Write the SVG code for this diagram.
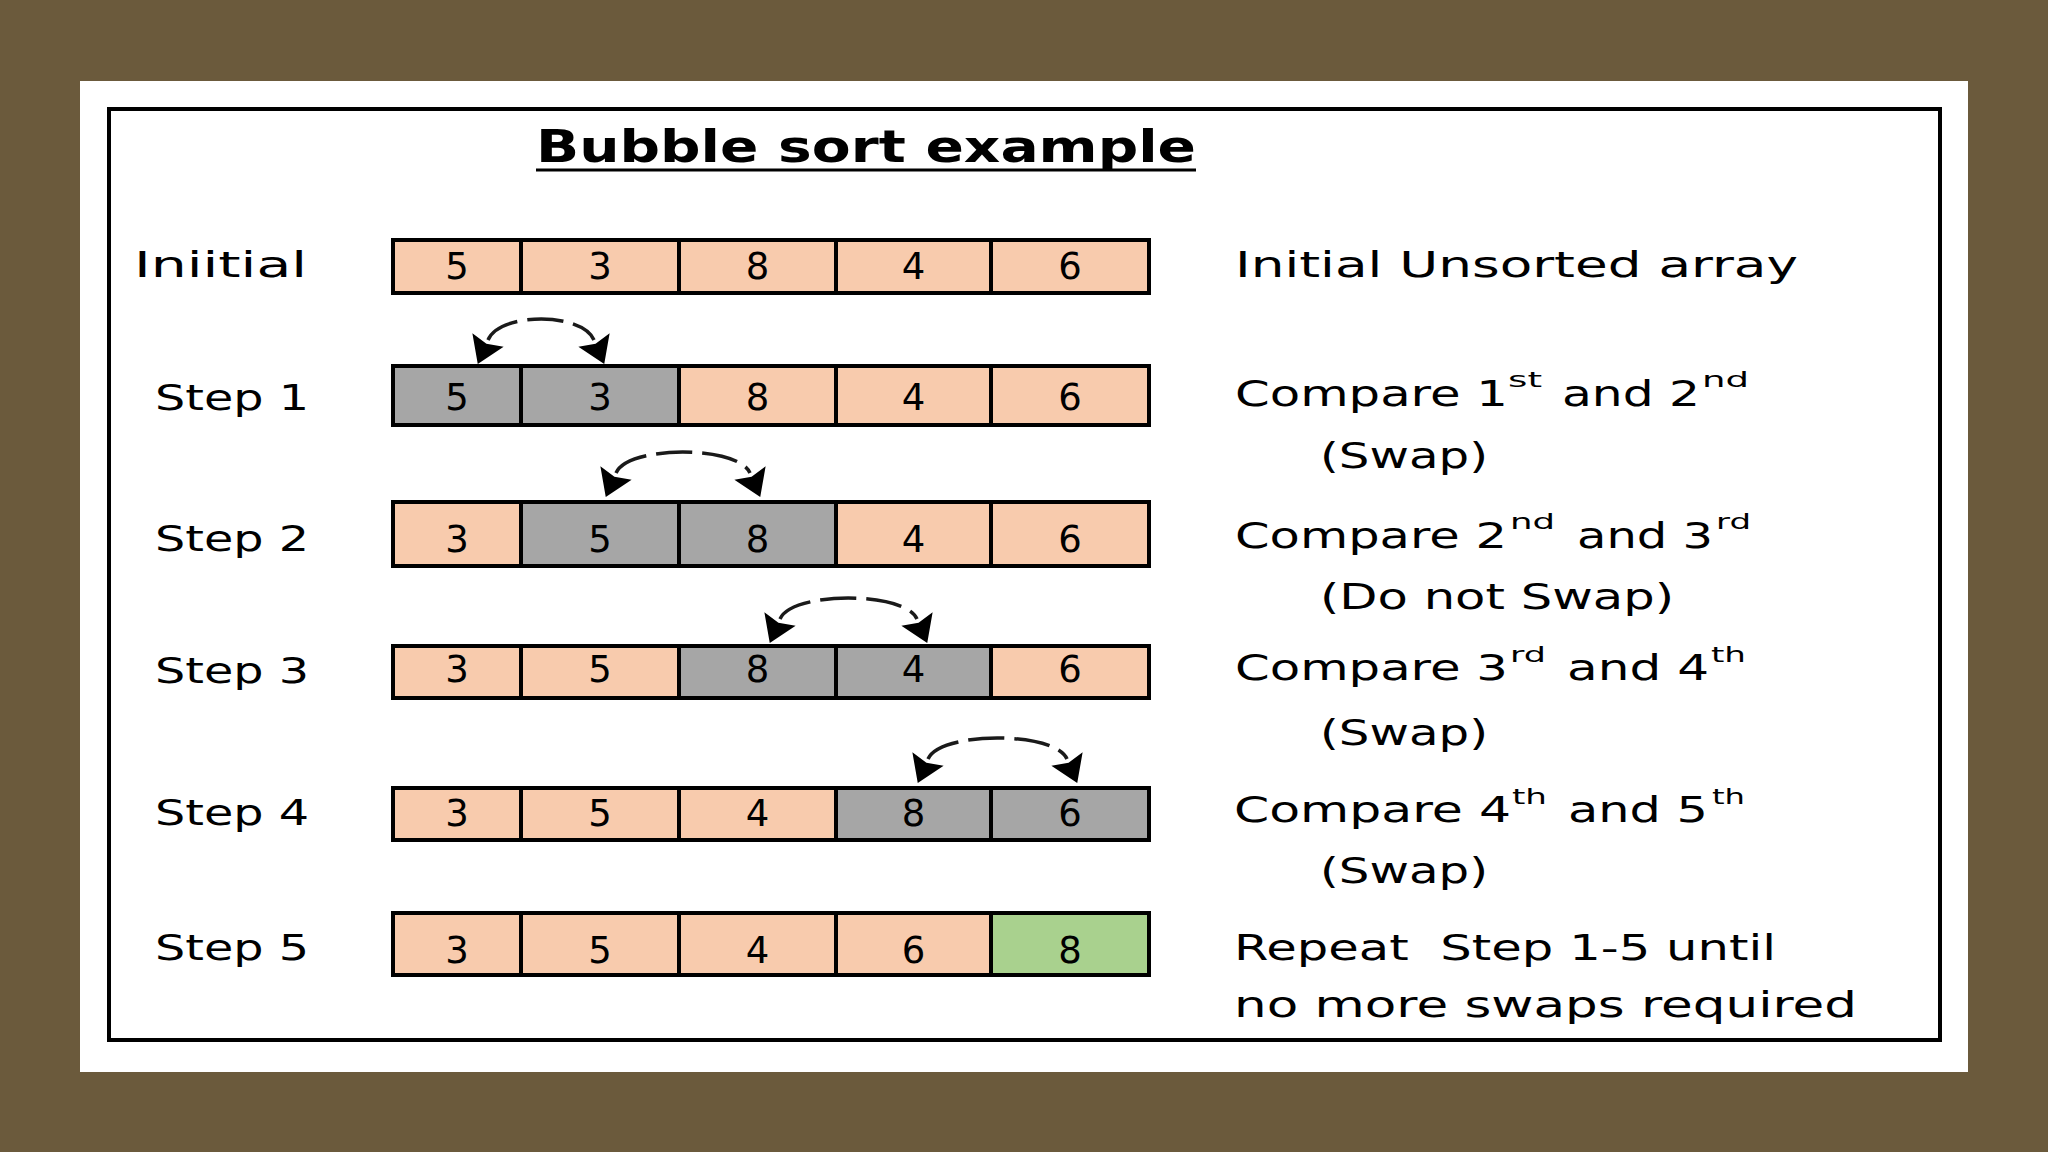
<svg xmlns="http://www.w3.org/2000/svg" width="2048" height="1152" viewBox="0 0 2048 1152">
<defs>
<style>
.t{font-family:"DejaVu Sans",Verdana,sans-serif;fill:#000}
.title{font-size:44px;font-weight:bold}
.lbl{font-size:36px}
.num{font-size:37px;text-anchor:middle}
.txt{font-size:35px}
.sup{font-size:21px}
.cell{stroke:#000;stroke-width:4}
.p{fill:#F8CBAD}
.g{fill:#A6A6A6}
.gr{fill:#A9D18E}
.arc{fill:none;stroke:#1a1a1a;stroke-width:3.5;stroke-dasharray:36 10;marker-start:url(#ah);marker-end:url(#ah)}
</style>
<marker id="ah" markerUnits="userSpaceOnUse" viewBox="-2 -20 32 40" markerWidth="32" markerHeight="40" refX="0" refY="0" orient="auto-start-reverse">
<path d="M0,-17 L26,0 L0,17 L4,0 Z" fill="#000"/>
</marker>
</defs>
<rect x="0" y="0" width="2048" height="1152" fill="#6B5A3C"/>
<rect x="80" y="81" width="1888" height="991" fill="#FFFFFF"/>
<rect x="109" y="109" width="1831" height="931" fill="none" stroke="#000" stroke-width="4"/>

<g id="title">
<text class="t title" x="536" y="162" textLength="660" lengthAdjust="spacingAndGlyphs">Bubble sort example</text>
<line x1="536" y1="170" x2="1196" y2="170" stroke="#000" stroke-width="3"/>
</g>

<g id="labels">
<text class="t lbl" x="134" y="277" textLength="173" lengthAdjust="spacingAndGlyphs">Iniitial</text>
<text class="t lbl" x="155" y="410" textLength="154" lengthAdjust="spacingAndGlyphs">Step 1</text>
<text class="t lbl" x="155" y="551" textLength="154" lengthAdjust="spacingAndGlyphs">Step 2</text>
<text class="t lbl" x="155" y="683" textLength="154" lengthAdjust="spacingAndGlyphs">Step 3</text>
<text class="t lbl" x="155" y="825" textLength="154" lengthAdjust="spacingAndGlyphs">Step 4</text>
<text class="t lbl" x="155" y="960" textLength="154" lengthAdjust="spacingAndGlyphs">Step 5</text>
</g>

<g id="row-initial">
<rect class="cell p" x="393" y="240" width="128" height="53"/>
<rect class="cell p" x="521" y="240" width="158" height="53"/>
<rect class="cell p" x="679" y="240" width="157" height="53"/>
<rect class="cell p" x="836" y="240" width="155" height="53"/>
<rect class="cell p" x="991" y="240" width="158" height="53"/>
<text class="t num" x="457" y="279">5</text>
<text class="t num" x="600" y="279">3</text>
<text class="t num" x="757.5" y="279">8</text>
<text class="t num" x="913.5" y="279">4</text>
<text class="t num" x="1070" y="279">6</text>
</g>

<g id="row-step1">
<rect class="cell g" x="393" y="366" width="128" height="59"/>
<rect class="cell g" x="521" y="366" width="158" height="59"/>
<rect class="cell p" x="679" y="366" width="157" height="59"/>
<rect class="cell p" x="836" y="366" width="155" height="59"/>
<rect class="cell p" x="991" y="366" width="158" height="59"/>
<text class="t num" x="457" y="410">5</text>
<text class="t num" x="600" y="410">3</text>
<text class="t num" x="757.5" y="410">8</text>
<text class="t num" x="913.5" y="410">4</text>
<text class="t num" x="1070" y="410">6</text>
</g>

<g id="row-step2">
<rect class="cell p" x="393" y="502" width="128" height="64"/>
<rect class="cell g" x="521" y="502" width="158" height="64"/>
<rect class="cell g" x="679" y="502" width="157" height="64"/>
<rect class="cell p" x="836" y="502" width="155" height="64"/>
<rect class="cell p" x="991" y="502" width="158" height="64"/>
<text class="t num" x="457" y="552">3</text>
<text class="t num" x="600" y="552">5</text>
<text class="t num" x="757.5" y="552">8</text>
<text class="t num" x="913.5" y="552">4</text>
<text class="t num" x="1070" y="552">6</text>
</g>

<g id="row-step3">
<rect class="cell p" x="393" y="646" width="128" height="52"/>
<rect class="cell p" x="521" y="646" width="158" height="52"/>
<rect class="cell g" x="679" y="646" width="157" height="52"/>
<rect class="cell g" x="836" y="646" width="155" height="52"/>
<rect class="cell p" x="991" y="646" width="158" height="52"/>
<text class="t num" x="457" y="682">3</text>
<text class="t num" x="600" y="682">5</text>
<text class="t num" x="757.5" y="682">8</text>
<text class="t num" x="913.5" y="682">4</text>
<text class="t num" x="1070" y="682">6</text>
</g>

<g id="row-step4">
<rect class="cell p" x="393" y="788" width="128" height="52"/>
<rect class="cell p" x="521" y="788" width="158" height="52"/>
<rect class="cell p" x="679" y="788" width="157" height="52"/>
<rect class="cell g" x="836" y="788" width="155" height="52"/>
<rect class="cell g" x="991" y="788" width="158" height="52"/>
<text class="t num" x="457" y="826">3</text>
<text class="t num" x="600" y="826">5</text>
<text class="t num" x="757.5" y="826">4</text>
<text class="t num" x="913.5" y="826">8</text>
<text class="t num" x="1070" y="826">6</text>
</g>

<g id="row-step5">
<rect class="cell p" x="393" y="913" width="128" height="62"/>
<rect class="cell p" x="521" y="913" width="158" height="62"/>
<rect class="cell p" x="679" y="913" width="157" height="62"/>
<rect class="cell p" x="836" y="913" width="155" height="62"/>
<rect class="cell gr" x="991" y="913" width="158" height="62"/>
<text class="t num" x="457" y="963">3</text>
<text class="t num" x="600" y="963">5</text>
<text class="t num" x="757.5" y="963">4</text>
<text class="t num" x="913.5" y="963">6</text>
<text class="t num" x="1070" y="963">8</text>
</g>

<g id="connectors">
<path class="arc" d="M488,340 C500,312 582,312 594,340"/>
<path class="arc" d="M616,473 C628,445 738,445 750,473"/>
<path class="arc" d="M780,619 C792,591 905,591 917,619"/>
<path class="arc" d="M928,759 C940,731 1055,731 1067,759"/>
</g>

<g id="desc-initial">
<text class="t txt" x="1235" y="277" textLength="563" lengthAdjust="spacingAndGlyphs">Initial Unsorted array</text>
</g>
<g id="desc-step1">
<text class="t txt" x="1235" y="406" textLength="273" lengthAdjust="spacingAndGlyphs">Compare 1</text>
<text class="t sup" x="1508" y="387" textLength="34" lengthAdjust="spacingAndGlyphs">st</text>
<text class="t txt" x="1562" y="406" textLength="138" lengthAdjust="spacingAndGlyphs">and 2</text>
<text class="t sup" x="1702" y="387" textLength="47" lengthAdjust="spacingAndGlyphs">nd</text>
<text class="t txt" x="1320" y="468" textLength="168" lengthAdjust="spacingAndGlyphs">(Swap)</text>
</g>
<g id="desc-step2">
<text class="t txt" x="1235" y="548" textLength="272" lengthAdjust="spacingAndGlyphs">Compare 2</text>
<text class="t sup" x="1510" y="529" textLength="45" lengthAdjust="spacingAndGlyphs">nd</text>
<text class="t txt" x="1577" y="548" textLength="136" lengthAdjust="spacingAndGlyphs">and 3</text>
<text class="t sup" x="1716" y="529" textLength="35" lengthAdjust="spacingAndGlyphs">rd</text>
<text class="t txt" x="1320" y="609" textLength="354" lengthAdjust="spacingAndGlyphs">(Do not Swap)</text>
</g>
<g id="desc-step3">
<text class="t txt" x="1235" y="680" textLength="273" lengthAdjust="spacingAndGlyphs">Compare 3</text>
<text class="t sup" x="1510" y="662" textLength="36" lengthAdjust="spacingAndGlyphs">rd</text>
<text class="t txt" x="1567" y="680" textLength="142" lengthAdjust="spacingAndGlyphs">and 4</text>
<text class="t sup" x="1711" y="662" textLength="35" lengthAdjust="spacingAndGlyphs">th</text>
<text class="t txt" x="1320" y="745" textLength="168" lengthAdjust="spacingAndGlyphs">(Swap)</text>
</g>
<g id="desc-step4">
<text class="t txt" x="1234" y="822" textLength="277" lengthAdjust="spacingAndGlyphs">Compare 4</text>
<text class="t sup" x="1512" y="804" textLength="35" lengthAdjust="spacingAndGlyphs">th</text>
<text class="t txt" x="1568" y="822" textLength="140" lengthAdjust="spacingAndGlyphs">and 5</text>
<text class="t sup" x="1712" y="804" textLength="33" lengthAdjust="spacingAndGlyphs">th</text>
<text class="t txt" x="1320" y="883" textLength="168" lengthAdjust="spacingAndGlyphs">(Swap)</text>
</g>
<g id="desc-step5">
<text class="t txt" x="1234" y="960" textLength="542" lengthAdjust="spacingAndGlyphs" xml:space="preserve">Repeat  Step 1-5 until</text>
<text class="t txt" x="1234" y="1017" textLength="623" lengthAdjust="spacingAndGlyphs">no more swaps required</text>
</g>
</svg>
